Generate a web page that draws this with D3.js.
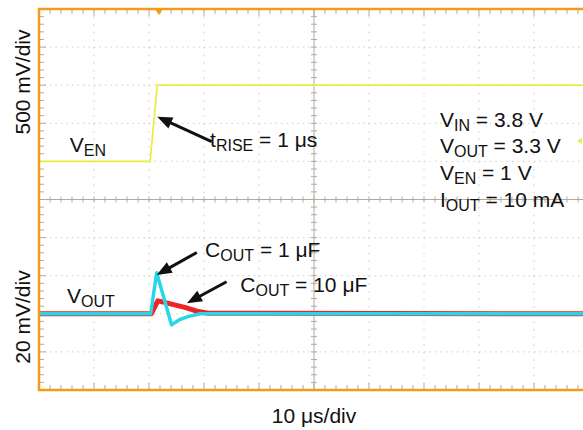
<!DOCTYPE html>
<html>
<head>
<meta charset="utf-8">
<script src="https://cdn.jsdelivr.net/npm/d3@7"></script>
<style>
  body { margin: 0; background: #fff; }
  text { font-family: "Liberation Sans", Arial, Helvetica, sans-serif; fill: #111; }
</style>
</head>
<body>
<div id="chart"></div>
<script>
// time in us, EN in mV (500 mV/div), VOUT deviation in mV (20 mV/div)
var enTime = [0, 20.2, 21.5, 100];
var enVolt = [0, 0, 1000, 1000];

var c1Time = [0, 20.3, 21.4, 24.1, 25.6, 27.1, 29.3, 100];
var c1Volt = [0, 0, 21.5, -5.8, -3.0, -1.5, 0, 0];

var c10Time = [0, 20.4, 21.6, 22.8, 26.5, 28.7, 30.8, 100];
var c10Volt = [0, 0, 6.8, 6.0, 3.4, 1.4, 0.3, 0];

var conditions = [
  ["V", "IN", " = 3.8 V"],
  ["V", "OUT", " = 3.3 V"],
  ["V", "EN", " = 1 V"],
  ["I", "OUT", " = 10 mA"]
];

var width = 583;
var height = 430;

var svg = d3.select("#chart")
  .append("svg")
    .attr("width", width)
    .attr("height", height);

// screen in divisions (10 x 10)
var gx = d3.scaleLinear().domain([0, 10]).range([39, 589]);
var gy = d3.scaleLinear().domain([0, 10]).range([9, 390]);

// channel scales
var x = d3.scaleLinear().domain([0, 100]).range(gx.range());
var yEn = d3.scaleLinear().domain([2000, -3000]).range(gy.range());
var yOut = d3.scaleLinear().domain([160, -40]).range(gy.range());

var frameColor = "#f39a1c";
var tickColor = "#ababab";

// grid dots
var grid = svg.append("g").attr("class", "grid");
grid.selectAll("line.v")
  .data([1, 2, 3, 4, 6, 7, 8, 9])
  .enter().append("line")
    .attr("x1", function(d) { return gx(d); })
    .attr("x2", function(d) { return gx(d); })
    .attr("y1", gy(0))
    .attr("y2", gy(10))
    .attr("stroke", "#d4d4d4")
    .attr("stroke-width", 1.3)
    .attr("stroke-dasharray", "1.4,6.22");
grid.selectAll("line.h")
  .data([1, 2, 3, 4, 6, 7, 8, 9])
  .enter().append("line")
    .attr("x1", gx(0))
    .attr("x2", gx(10))
    .attr("y1", function(d) { return gy(d); })
    .attr("y2", function(d) { return gy(d); })
    .attr("stroke", "#d4d4d4")
    .attr("stroke-width", 1.3)
    .attr("stroke-dasharray", "1.4,4.1");

// center cross with minor ticks
var minor = d3.range(0, 10.001, 0.2);
var center = svg.append("g").attr("class", "center");
center.append("line")
  .attr("x1", gx(0)).attr("x2", gx(10))
  .attr("y1", gy(5)).attr("y2", gy(5))
  .attr("stroke", "#b4aa92").attr("stroke-width", 1);
center.append("line")
  .attr("x1", gx(5)).attr("x2", gx(5))
  .attr("y1", gy(0)).attr("y2", gy(10))
  .attr("stroke", "#b4aa92").attr("stroke-width", 1);
center.selectAll("line.ht")
  .data(minor)
  .enter().append("line")
    .attr("x1", function(d) { return gx(d); })
    .attr("x2", function(d) { return gx(d); })
    .attr("y1", gy(5) - 3)
    .attr("y2", gy(5) + 3)
    .attr("stroke", tickColor);
center.selectAll("line.vt")
  .data(minor)
  .enter().append("line")
    .attr("x1", gx(5) - 3)
    .attr("x2", gx(5) + 3)
    .attr("y1", function(d) { return gy(d); })
    .attr("y2", function(d) { return gy(d); })
    .attr("stroke", tickColor);

// edge ticks
var edges = svg.append("g").attr("class", "edges");
edges.selectAll("line.top")
  .data(minor)
  .enter().append("line")
    .attr("x1", function(d) { return gx(d); })
    .attr("x2", function(d) { return gx(d); })
    .attr("y1", gy(0))
    .attr("y2", function(d) { return gy(0) + (d % 1 === 0 ? 7 : 5); })
    .attr("stroke", tickColor);
edges.selectAll("line.bottom")
  .data(minor)
  .enter().append("line")
    .attr("x1", function(d) { return gx(d); })
    .attr("x2", function(d) { return gx(d); })
    .attr("y1", gy(10))
    .attr("y2", function(d) { return gy(10) - (d % 1 === 0 ? 7 : 5); })
    .attr("stroke", tickColor);
edges.selectAll("line.left")
  .data(minor)
  .enter().append("line")
    .attr("x1", gx(0))
    .attr("x2", function(d) { return gx(0) + (d % 1 === 0 ? 7 : 5); })
    .attr("y1", function(d) { return gy(d); })
    .attr("y2", function(d) { return gy(d); })
    .attr("stroke", tickColor);

// traces
function series(t, v) {
  return t.map(function(d, i) { return [d, v[i]]; });
}

var lineEn = d3.line()
  .x(function(d) { return x(d[0]); })
  .y(function(d) { return yEn(d[1]); });
var lineOut = d3.line()
  .x(function(d) { return x(d[0]); })
  .y(function(d) { return yOut(d[1]); });

svg.append("path")
  .datum(series(c10Time, c10Volt))
  .attr("d", lineOut)
  .attr("fill", "none")
  .attr("stroke", "#ee2424")
  .attr("stroke-width", 5)
  .attr("stroke-linejoin", "round");

svg.append("path")
  .datum(series(c1Time, c1Volt))
  .attr("d", lineOut)
  .attr("fill", "none")
  .attr("stroke", "#28d6ea")
  .attr("stroke-width", 3.5)
  .attr("stroke-linejoin", "round");

svg.append("path")
  .datum(series(enTime, enVolt))
  .attr("d", lineEn)
  .attr("fill", "none")
  .attr("stroke", "#e6ef40")
  .attr("stroke-width", 1.7);

// frame
svg.append("rect")
  .attr("x", gx(0))
  .attr("y", gy(0))
  .attr("width", gx(10) - gx(0))
  .attr("height", gy(10) - gy(0))
  .attr("fill", "none")
  .attr("stroke", frameColor)
  .attr("stroke-width", 2.5);

// trigger marker and level marker
svg.append("path")
  .attr("d", "M" + (gx(2.18) - 4) + "," + gy(0) + "L" + (gx(2.18) + 4) + "," + gy(0) + "L" + gx(2.18) + "," + (gy(0) + 6) + "Z")
  .attr("fill", frameColor);
svg.append("path")
  .attr("d", "M" + (width - 1) + "," + (gy(3.46) - 3) + "L" + (width - 1) + "," + (gy(3.46) + 3) + "L" + (width - 6) + "," + gy(3.46) + "Z")
  .attr("fill", "#e6ef40");

// labels with subscripts
function label(px, py, parts, size) {
  size = size || 21;
  var t = svg.append("text")
    .attr("x", px)
    .attr("y", py)
    .style("font-size", size + "px");
  t.append("tspan").text(parts[0]);
  t.append("tspan")
    .attr("dy", 4)
    .style("font-size", Math.round(size * 0.74) + "px")
    .text(parts[1]);
  t.append("tspan")
    .attr("dy", -4)
    .text(parts[2]);
  return t;
}

label(gx(0.56), gy(3.75), ["V", "EN", ""]);
label(gx(3.11), gy(3.62), ["t", "RISE", " = 1 \u03bcs"]);
label(gx(0.51), gy(7.72), ["V", "OUT", ""]);
label(gx(3.02), gy(6.51), ["C", "OUT", " = 1 \u03bcF"]);
label(gx(3.66), gy(7.44), ["C", "OUT", " = 10 \u03bcF"]);

var condY = [3.1, 3.79, 4.49, 5.2];
conditions.forEach(function(c, i) {
  label(gx(7.29), gy(condY[i]), c);
});

svg.append("text")
  .attr("x", gx(5))
  .attr("y", 423)
  .attr("text-anchor", "middle")
  .style("font-size", "21px")
  .text("10 \u03bcs/div");

svg.append("text")
  .attr("transform", "translate(30," + 82 + ") rotate(-90)")
  .attr("text-anchor", "middle")
  .style("font-size", "21px")
  .text("500 mV/div");

svg.append("text")
  .attr("transform", "translate(30," + 317 + ") rotate(-90)")
  .attr("text-anchor", "middle")
  .style("font-size", "21px")
  .text("20 mV/div");

// arrows [tailX, tailY, tipX, tipY] in divisions
var arrows = [
  [3.14, 3.48, 2.15, 2.83],
  [2.87, 6.39, 2.14, 6.98],
  [3.41, 7.16, 2.69, 7.72]
];

arrows.forEach(function(a) {
  var x0 = gx(a[0]), y0 = gy(a[1]), x1 = gx(a[2]), y1 = gy(a[3]);
  var dx = x1 - x0, dy = y1 - y0;
  var len = Math.sqrt(dx * dx + dy * dy);
  var ux = dx / len, uy = dy / len;
  var headL = 15, headW = 6;
  var bx = x1 - ux * headL, by = y1 - uy * headL;
  svg.append("line")
    .attr("x1", x0).attr("y1", y0)
    .attr("x2", bx + ux * 2).attr("y2", by + uy * 2)
    .attr("stroke", "#111")
    .attr("stroke-width", 3);
  svg.append("path")
    .attr("d", "M" + x1 + "," + y1 +
      "L" + (bx - uy * headW) + "," + (by + ux * headW) +
      "L" + (bx + uy * headW) + "," + (by - ux * headW) + "Z")
    .attr("fill", "#111");
});
</script>
</body>
</html>
